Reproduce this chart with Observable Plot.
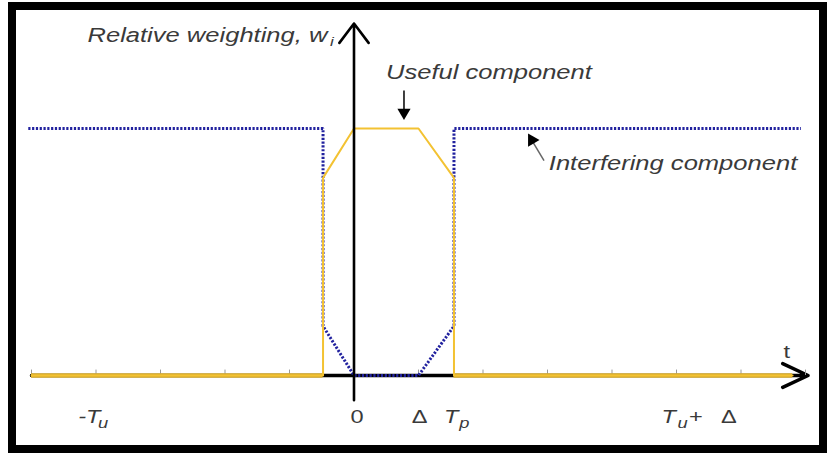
<!DOCTYPE html>
<html>
<head>
<meta charset="utf-8">
<script src="https://cdn.jsdelivr.net/npm/d3@7"></script>
<script src="https://cdn.jsdelivr.net/npm/@observablehq/plot@0.6"></script>
<style>
  html, body { margin: 0; padding: 0; background: #fff; }
  #wrap { position: relative; width: 827px; height: 453px; overflow: hidden; }
  #frame { position: absolute; left: 8px; top: 2px; width: 819px; height: 451px;
           border: 8px solid #000; box-sizing: border-box; pointer-events: none; }
</style>
</head>
<body>
<div id="wrap"><div id="frame"></div></div>
<script>
// ---- data (t in arbitrary time units, w = relative weighting) ----
const Tu = 4, Delta = 1, Tp = 1.55, edge = -0.48;
const tickT = [-5, -4, -3, -2, -1, 0, 1, 2, 3, 4, 5, 6, 7];

const usefulT = [-5, edge, edge, 0, Delta, Tp, Tp, 6.8];
const usefulW = [0, 0, 0.8, 1, 1, 0.8, 0, 0];

const interfT = [-5.05, edge, edge, 0, Delta, Tp, Tp, 6.93];
const interfW = [1, 1, 0.2, 0, 0, 0.2, 1, 1];

const axisXT = [-5, 7.04];
const axisYW = [-0.1, 1.425];

const tickLabelText = ["-T", "0", "Δ", "T", "T", "+", "Δ"];
const tickLabelT = [-Tu, 0, Delta, Tp, Tu + Delta, Tu + Delta, Tu + Delta];
const subText = ["u", "p", "u"];
const subT = [-Tu, Tp, Tu + Delta];

const useful = usefulT.map((t, i) => ({t, w: usefulW[i]}));
const interf = interfT.map((t, i) => ({t, w: interfW[i]}));
const baseSeg = [];
for (let i = 0; i < useful.length - 1; i++)
  if (useful[i].w === 0 && useful[i + 1].w === 0) baseSeg.push({t1: useful[i].t, t2: useful[i + 1].t});

const font = "Liberation Sans, Arial, Helvetica, sans-serif";
const grey = "#3a3a3a";

// per-label layout (pixel offsets / anchors / styles)
const tickDx = [5, 3, 1, 5, 0, 12.5, 44.5];
const tickAnchor = ["end", "middle", "middle", "end", "end", "start", "start"];
const tickStyle = ["italic", "normal", "normal", "italic", "italic", "normal", "normal"];
const subDx = [2, 5, 1];

const tickMarks = tickLabelText.map((s, i) =>
  Plot.text([s], {x: tickLabelT[i], y: -0.17, text: d => d, dx: tickDx[i], textAnchor: tickAnchor[i],
                  fontStyle: tickStyle[i], fontSize: 18, fill: grey}));
const subMarks = subText.map((s, i) =>
  Plot.text([s], {x: subT[i], y: -0.194, text: d => d, dx: subDx[i], textAnchor: "start",
                  fontStyle: "italic", fontSize: 14, fill: grey}));

const plot = Plot.plot({
  width: 827, height: 453,
  x: {domain: [-5, 7], range: [31, 805], axis: null},
  y: {domain: [0, 1], range: [375, 128], axis: null},
  style: {background: "transparent", overflow: "visible", fontFamily: font},
  marks: [
    // x axis with arrow
    Plot.arrow([0], {x1: axisXT[0], x2: axisXT[1], y1: 0, y2: 0, stroke: "#000", strokeWidth: 3.5, headLength: 12, headAngle: 50}),
    Plot.ruleX(tickT, {x: d => d, y1: 0, y2: 0.022, stroke: "#999", strokeWidth: 1}),
    // interfering component (dotted)
    Plot.line(interf, {x: "t", y: "w", stroke: "#22229f", strokeWidth: 3, strokeDasharray: "2.2,1.6",
                       strokeLinecap: "butt", strokeLinejoin: "miter"}),
    // useful component
    Plot.ruleY(baseSeg, {x1: "t1", x2: "t2", y: 0, stroke: "#d9ac2c", strokeWidth: 4.5}),
    Plot.line(useful, {x: "t", y: "w", stroke: "#f3c232", strokeWidth: 2}),
    // y axis with arrow
    Plot.arrow([0], {x1: 0, x2: 0, y1: axisYW[0], y2: axisYW[1], stroke: "#000", strokeWidth: 2.6, headLength: 14, headAngle: 74}),
    // annotation arrows
    Plot.link([0], {x1: 0.775, x2: 0.775, y1: 1.154, y2: 1.07, stroke: "#000", strokeWidth: 1.5}),
    Plot.dot([0], {x: 0.775, y: 1.065, symbol: "triangle2", r: 6.3, fill: "#000", stroke: "none", rotate: 180}),
    Plot.link([0], {x1: 2.946, x2: 2.76, y1: 0.87, y2: 0.951, stroke: "#666", strokeWidth: 1.5}),
    Plot.dot([0], {x: 2.758, y: 0.953, symbol: "triangle2", r: 6.3, fill: "#000", stroke: "none", rotate: -30}),
    // annotation texts
    Plot.text(["Relative weighting, w"], {x: -0.403, y: 1.377, text: d => d, textAnchor: "end", fontSize: 19.5, fontStyle: "italic", fill: grey}),
    Plot.text(["i"], {x: -0.403, y: 1.352, dx: 2, text: d => d, textAnchor: "start", fontSize: 13, fontStyle: "italic", fill: grey}),
    Plot.text(["Useful component"], {x: 0.496, y: 1.227, text: d => d, textAnchor: "start", fontSize: 19.5, fontStyle: "italic", fill: grey}),
    Plot.text(["Interfering component"], {x: 3.02, y: 0.858, text: d => d, textAnchor: "start", fontSize: 19.5, fontStyle: "italic", fill: grey}),
    Plot.text(["t"], {x: 6.71, y: 0.093, text: d => d, textAnchor: "middle", fontSize: 18, fill: grey}),
    ...tickMarks,
    ...subMarks
  ]
});

document.getElementById("wrap").insertBefore(plot, document.getElementById("frame"));

// stretch text horizontally about its anchor point (reference glyphs are wide)
const SX = 1.31;
d3.select(plot).selectAll("text").each(function() {
  const bb = this.getBBox();
  if (!bb.width) return;
  const anchor = getComputedStyle(this).textAnchor;
  const ax = anchor === "end" ? bb.x + bb.width : anchor === "middle" ? bb.x + bb.width / 2 : bb.x;
  const tr = this.getAttribute("transform") || "";
  this.setAttribute("transform", `${tr} translate(${ax},0) scale(${SX},1) translate(${-ax},0)`);
});
</script>
</body>
</html>
